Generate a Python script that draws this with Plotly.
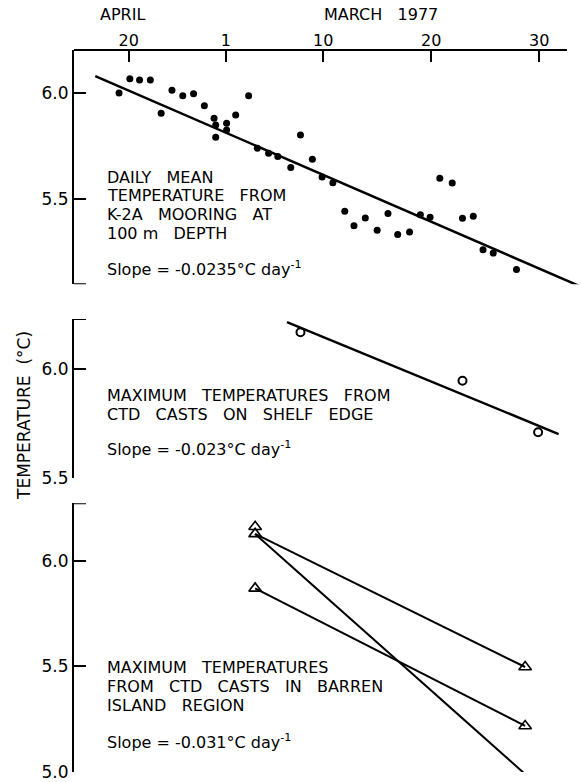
import plotly.graph_objects as go

# days counted from 1 March 1977 (28 Feb = 0, 20 Feb = -8)
mooring_day = [-8.9, -7.9, -7.0, -6.0, -5.0, -4.0, -3.0, -2.0, -1.0, -0.1,
               0.05, 0.05, 1.06, 1.06, 1.9, 3.1, 3.9, 4.95, 5.8, 7.0,
               7.9, 9.0, 9.9, 10.9, 12.0, 12.85, 13.9, 15.0, 16.0, 16.9,
               18.0, 19.0, 19.9, 20.8, 21.95, 22.9, 23.9, 24.8, 25.75, 27.9]
mooring_temp = [6.00, 6.067, 6.061, 6.061, 5.904, 6.013, 5.987, 5.997, 5.94, 5.881,
                5.849, 5.791, 5.857, 5.825, 5.896, 5.987, 5.739, 5.716, 5.70, 5.649,
                5.802, 5.687, 5.604, 5.577, 5.442, 5.374, 5.410, 5.352, 5.431, 5.333,
                5.344, 5.426, 5.414, 5.598, 5.575, 5.409, 5.418, 5.261, 5.245, 5.167]
mooring_fit_day = [-11.1, 33.7]
mooring_fit_temp = [6.08, 5.09]

shelf_day = [7.9, 22.9, 29.9]
shelf_temp = [6.17, 5.948, 5.711]
shelf_fit_day = [6.65, 31.8]
shelf_fit_temp = [6.217, 5.703]

barren_day = [3.7, 3.7, 3.7, 28.7, 28.7, 28.7]
barren_temp = [6.161, 6.127, 5.869, 5.497, 5.218, 4.99]
barren_pair_start = [6.127, 6.127, 5.869]
barren_pair_end = [5.497, 4.99, 5.218]

tick_days = [-8, 1, 10, 20, 30]
tick_text = ["20", "1", "10", "20", "30"]

FONT = "DejaVu Sans"
BLACK = "black"

fig = go.Figure()

fig.add_trace(go.Scatter(x=mooring_day, y=mooring_temp, mode="markers",
                         marker=dict(color=BLACK, size=7), xaxis="x", yaxis="y"))
fig.add_trace(go.Scatter(x=mooring_fit_day, y=mooring_fit_temp, mode="lines",
                         line=dict(color=BLACK, width=2.5), xaxis="x", yaxis="y"))

fig.add_trace(go.Scatter(x=shelf_day, y=shelf_temp, mode="markers",
                         marker=dict(color=BLACK, size=8, symbol="circle-open", line_width=2),
                         xaxis="x2", yaxis="y2"))
fig.add_trace(go.Scatter(x=shelf_fit_day, y=shelf_fit_temp, mode="lines",
                         line=dict(color=BLACK, width=2.5), xaxis="x2", yaxis="y2"))

for t0, t1 in zip(barren_pair_start, barren_pair_end):
    fig.add_trace(go.Scatter(x=[barren_day[0], barren_day[-1]], y=[t0, t1], mode="lines",
                             line=dict(color=BLACK, width=2), xaxis="x3", yaxis="y3"))
fig.add_trace(go.Scatter(x=barren_day, y=barren_temp, mode="markers", cliponaxis=False,
                         marker=dict(color=BLACK, size=11, symbol="triangle-up-open", line_width=1.6),
                         xaxis="x3", yaxis="y3"))

xr = [-13.07, 33.78]
yaxis_style = dict(showline=True, linecolor=BLACK, linewidth=2, ticks="inside", ticklen=12,
                   tickwidth=2, tickcolor=BLACK, showgrid=False, zeroline=False,
                   tickfont=dict(family=FONT, size=17, color=BLACK))

fig.update_layout(
    width=581, height=782,
    margin=dict(l=74, r=1, t=50, b=10),
    paper_bgcolor="white", plot_bgcolor="white",
    showlegend=False,
    hovermode=False,
    xaxis=dict(range=xr, domain=[0, 1], anchor="y", side="top", showline=False,
               ticks="inside", ticklen=12, tickwidth=2, tickcolor=BLACK,
               tickvals=tick_days, ticktext=tick_text, showgrid=False, zeroline=False,
               tickfont=dict(family=FONT, size=16, color=BLACK)),
    xaxis2=dict(range=xr, domain=[0, 1], anchor="y2", visible=False),
    xaxis3=dict(range=xr, domain=[0, 1], anchor="y3", visible=False),
    yaxis=dict(range=[5.0976, 6.2028], domain=[0.6755, 1.0], anchor="x",
               tickvals=[5.5, 6.0], ticktext=["5.5", "6.0"], **yaxis_style),
    yaxis2=dict(range=[5.5, 6.231], domain=[0.4068, 0.6274], anchor="x2",
                tickvals=[5.5, 6.0], ticktext=["5.5", "6.0"], **yaxis_style),
    yaxis3=dict(range=[5.0, 6.272], domain=[0.0, 0.3722], anchor="x3",
                tickvals=[5.0, 5.5, 6.0], ticktext=["5.0", "5.5", "6.0"], **yaxis_style),
)

# top axis line stops short of the right edge
fig.add_shape(type="line", xref="x", yref="paper", x0=xr[0], x1=32.57, y0=1, y1=1,
              line=dict(color=BLACK, width=2))

# bracket ends of the open panel axes
for yref, yval in [("y", 5.0976), ("y2", 6.231), ("y3", 6.272)]:
    fig.add_shape(type="line", xref="paper", yref=yref, x0=0, x1=12 / 506, y0=yval, y1=yval,
                  line=dict(color=BLACK, width=2))


def py(px):
    # pixel row to paper coordinate
    return (772 - px) / 722


def note(text, ypx, xpx=105, size=16, **kw):
    fig.add_annotation(text=text, x=(xpx - 74) / 506, y=py(ypx), xref="paper", yref="paper",
                       xanchor="left", yanchor="middle", showarrow=False,
                       font=dict(family=FONT, size=size, color=BLACK), **kw)


sp = "\u00a0\u00a0\u00a0"
gap = 18.8
top_lines = ["DAILY" + sp + "MEAN", "TEMPERATURE" + sp + "FROM",
             "K-2A" + sp + "MOORING" + sp + "AT", "100 m" + sp + "DEPTH"]
for i, line in enumerate(top_lines):
    note(line, 177.2 + gap * i)
note("Slope = -0.0235°C day<sup>-1</sup>", 268)

mid_lines = ["MAXIMUM" + sp + "TEMPERATURES" + sp + "FROM", "CTD" + sp + "CASTS" + sp + "ON" + sp + "SHELF" + sp + "EDGE"]
for i, line in enumerate(mid_lines):
    note(line, 395.5 + gap * i)
note("Slope = -0.023°C day<sup>-1</sup>", 449)

bot_lines = ["MAXIMUM" + sp + "TEMPERATURES", "FROM" + sp + "CTD" + sp + "CASTS" + sp + "IN" + sp + "BARREN",
             "ISLAND" + sp + "REGION"]
for i, line in enumerate(bot_lines):
    note(line, 667.5 + gap * i)
note("Slope = -0.031°C day<sup>-1</sup>", 741)

fig.add_annotation(text="APRIL", x=(122 - 74) / 506, y=py(15), xref="paper", yref="paper",
                   showarrow=False, xanchor="center", yanchor="middle",
                   font=dict(family=FONT, size=16, color=BLACK))
fig.add_annotation(text="MARCH" + sp + "1977", x=(381 - 74) / 506, y=py(15), xref="paper", yref="paper",
                   showarrow=False, xanchor="center", yanchor="middle",
                   font=dict(family=FONT, size=16, color=BLACK))
fig.add_annotation(text="TEMPERATURE" + "\u00a0\u00a0" + "(°C)", x=(24 - 74) / 506, y=py(416), xref="paper",
                   yref="paper", showarrow=False, textangle=-90, xanchor="center", yanchor="middle",
                   font=dict(family=FONT, size=17, color=BLACK))

fig.write_html("out.html", config={"displayModeBar": False, "staticPlot": True},
               post_script="document.body.style.margin = '0';")
